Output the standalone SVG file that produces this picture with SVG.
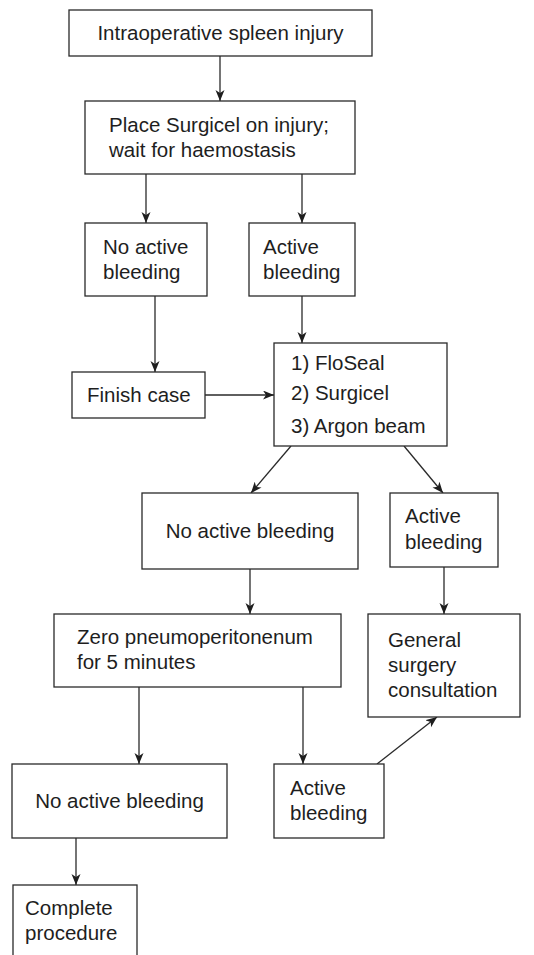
<svg xmlns="http://www.w3.org/2000/svg" width="534" height="955" viewBox="0 0 534 955">
<style>
.box{fill:#fff;stroke:#2a2a2a;stroke-width:1.3}
.t{font-family:"Liberation Sans",Arial,sans-serif;font-size:20.5px;fill:#1e1e1e}
.m{text-anchor:middle}
.c{fill:none;stroke:#2a2a2a;stroke-width:1.3;marker-end:url(#ah)}
</style>
<defs>
<marker id="ah" markerWidth="12" markerHeight="10" refX="11" refY="4.5" orient="auto" markerUnits="userSpaceOnUse">
<path d="M0,0 L11,4.5 L0,9 L3,4.5 z" fill="#1e1e1e"/>
</marker>
</defs>
<rect width="534" height="955" fill="#fff"/>
<g id="connectors">
<line class="c" x1="220" y1="56" x2="220" y2="101"/>
<line class="c" x1="146" y1="174" x2="146" y2="223"/>
<line class="c" x1="302" y1="174" x2="302" y2="223"/>
<line class="c" x1="155" y1="296" x2="155" y2="372"/>
<line class="c" x1="302" y1="296" x2="302" y2="343"/>
<line class="c" x1="205" y1="395" x2="274" y2="395"/>
<line class="c" x1="291" y1="446" x2="251" y2="493"/>
<line class="c" x1="404" y1="446" x2="443" y2="493"/>
<line class="c" x1="250" y1="569" x2="250" y2="614"/>
<line class="c" x1="444" y1="567" x2="444" y2="614"/>
<line class="c" x1="139" y1="687" x2="139" y2="764"/>
<line class="c" x1="303" y1="687" x2="303" y2="764"/>
<line class="c" x1="377" y1="764" x2="437" y2="717"/>
<line class="c" x1="76" y1="838" x2="76" y2="885"/>
</g>
<g id="n1"><rect class="box" x="69" y="10" width="303" height="46"/><text class="t m" x="220.5" y="40">Intraoperative spleen injury</text></g>
<g id="n2"><rect class="box" x="85" y="101" width="270" height="73"/><text class="t" x="109" y="132">Place Surgicel on injury;</text><text class="t" x="109" y="157">wait for haemostasis</text></g>
<g id="n3"><rect class="box" x="85" y="223" width="122" height="73"/><text class="t" x="103" y="254">No active</text><text class="t" x="103" y="279">bleeding</text></g>
<g id="n4"><rect class="box" x="249" y="223" width="106" height="73"/><text class="t" x="263" y="254">Active</text><text class="t" x="263" y="279">bleeding</text></g>
<g id="n5"><rect class="box" x="72" y="372" width="133" height="46"/><text class="t" x="87" y="402">Finish case</text></g>
<g id="n6"><rect class="box" x="274" y="343" width="173" height="103"/><text class="t" x="291" y="370">1) FloSeal</text><text class="t" x="291" y="400">2) Surgicel</text><text class="t" x="291" y="433">3) Argon beam</text></g>
<g id="n7"><rect class="box" x="142" y="493" width="216" height="76"/><text class="t m" x="250" y="538">No active bleeding</text></g>
<g id="n8"><rect class="box" x="390" y="493" width="108" height="74"/><text class="t" x="405" y="523">Active</text><text class="t" x="405" y="549">bleeding</text></g>
<g id="n9"><rect class="box" x="54" y="614" width="287" height="73"/><text class="t" x="77" y="644">Zero pneumoperitonenum</text><text class="t" x="77" y="669">for 5 minutes</text></g>
<g id="n10"><rect class="box" x="368" y="614" width="152" height="103"/><text class="t" x="388" y="647">General</text><text class="t" x="388" y="672">surgery</text><text class="t" x="388" y="697">consultation</text></g>
<g id="n11"><rect class="box" x="12" y="764" width="215" height="74"/><text class="t m" x="119.5" y="808">No active bleeding</text></g>
<g id="n12"><rect class="box" x="274" y="764" width="110" height="74"/><text class="t" x="290" y="795">Active</text><text class="t" x="290" y="820">bleeding</text></g>
<g id="n13"><rect class="box" x="13" y="885" width="124" height="80"/><text class="t" x="25" y="915">Complete</text><text class="t" x="25" y="940">procedure</text></g>
</svg>
